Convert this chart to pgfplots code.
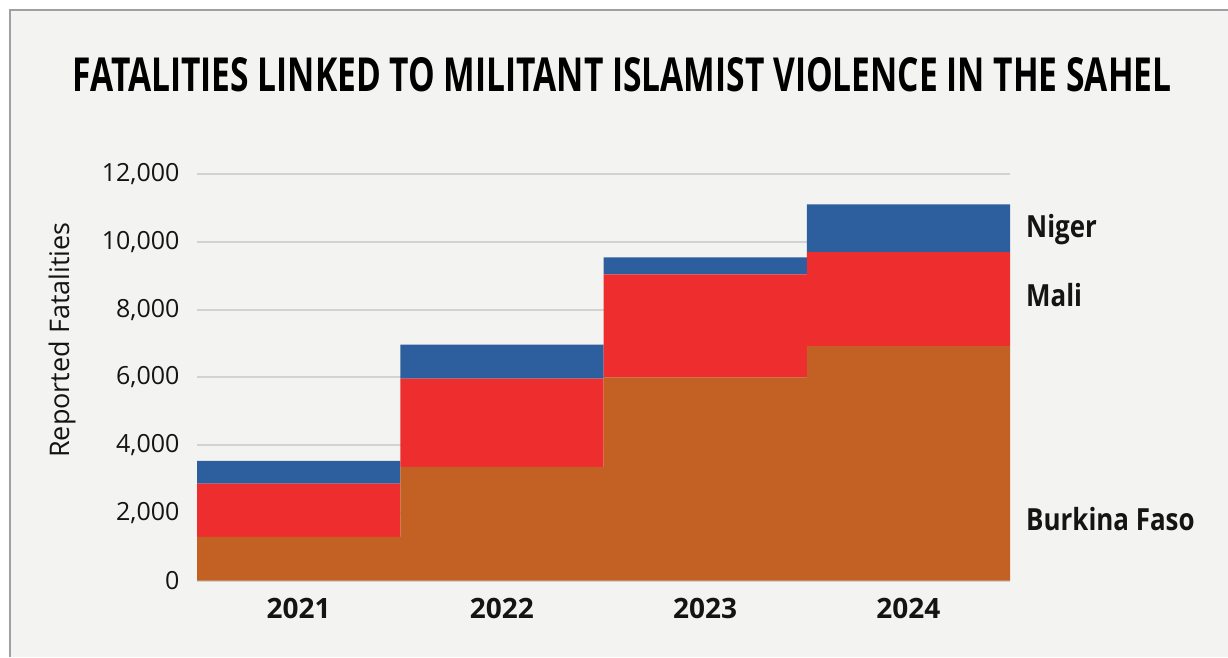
\documentclass[border=0pt]{standalone}
\usepackage{fontspec}
\setmainfont{Open Sans}
\newfontfamily\labfont{Open Sans}[FakeStretch=0.85]
\usepackage{graphicx}
\usepackage{pgfplots}
\pgfplotsset{compat=1.18}
\definecolor{panel}{RGB}{243,243,241}
\definecolor{bfcol}{RGB}{195,96,36}
\definecolor{malicol}{RGB}{238,46,46}
\definecolor{nigcol}{RGB}{45,94,158}
\definecolor{gridc}{RGB}{210,210,208}
\definecolor{bordc}{RGB}{160,160,160}
\definecolor{txt}{RGB}{20,20,20}
\begin{document}
\begin{tikzpicture}[x=1pt,y=1pt]
\path[use as bounding box] (0,0) rectangle (1228,657);
\fill[white] (0,0) rectangle (1228,657);
\fill[panel] (10,0) rectangle (1228,647);
\draw[bordc, line width=1.5pt] (10,0) -- (10,647) -- (1228,647);
\node[anchor=center, inner sep=0pt] at (622,582.5) {\resizebox{1099pt}{34pt}{\bfseries FATALITIES LINKED TO MILITANT ISLAMIST VIOLENCE IN THE SAHEL}};
\node[rotate=90, anchor=center, text=txt, inner sep=0pt] at (62,317) {\fontsize{27}{32}\selectfont Reported Fatalities};
\begin{axis}[
  at={(197pt,76.3pt)}, anchor=south west,
  scale only axis, width=813pt, height=406.7pt,
  xmin=-0.5, xmax=3.5, ymin=0, ymax=12000,
  ybar stacked, bar width=1,
  xtick={0,1,2,3}, xticklabels={2021,2022,2023,2024},
  ytick={0,2000,4000,6000,8000,10000,12000},
  scaled y ticks=false,
  ymajorgrids, grid style={gridc, line width=2pt},
  axis line style={draw=none}, major tick length=0pt,
  /pgf/number format/assume math mode=true,
  /pgf/number format/fixed,
  /pgf/number format/1000 sep={,},
  yticklabel style={font=\fontsize{25}{30}\selectfont, text=txt, xshift=-14pt},
  xticklabel style={font=\fontsize{28}{33}\selectfont\bfseries, text=txt, yshift=-14pt},
  clip=false,
]
\addplot[fill=bfcol, draw=none] coordinates {(0,1290) (1,3360) (2,6000) (3,6920)};
\addplot[fill=malicol, draw=none] coordinates {(0,1577) (1,2605) (2,3035) (3,2776)};
\addplot[fill=nigcol, draw=none] coordinates {(0,671) (1,997) (2,503) (3,1410)};
\node[anchor=base west, inner sep=0pt, text=txt, xshift=16pt] at (axis cs:3.5,10130) {\fontsize{30.5}{36}\labfont\bfseries Niger};
\node[anchor=base west, inner sep=0pt, text=txt, xshift=16pt] at (axis cs:3.5,8100) {\fontsize{30.5}{36}\labfont\bfseries Mali};
\node[anchor=base west, inner sep=0pt, text=txt, xshift=16pt] at (axis cs:3.5,1478) {\fontsize{30.5}{36}\labfont\bfseries Burkina Faso};
\end{axis}
\end{tikzpicture}
\end{document}
